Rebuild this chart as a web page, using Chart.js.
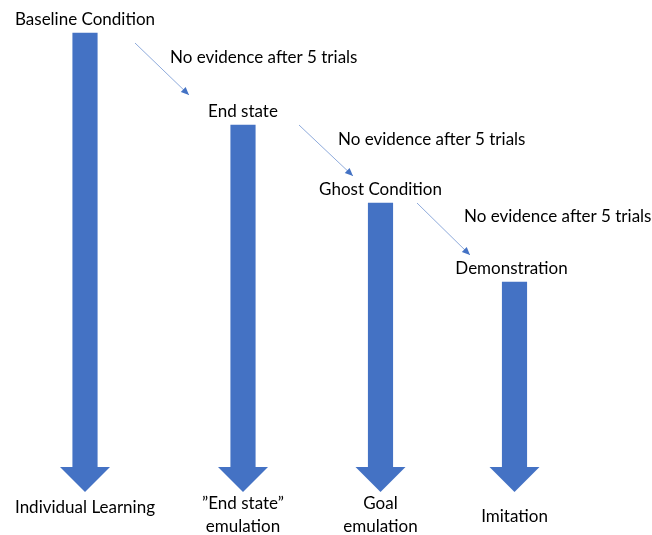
<!DOCTYPE html>
<html>
<head>
<meta charset="utf-8">
<script src="https://cdn.jsdelivr.net/npm/chart.js@4/dist/chart.umd.min.js"></script>
<style>
  html, body { margin: 0; padding: 0; background: #fff; }
  #wrap { width: 652px; height: 535px; position: relative; }
</style>
</head>
<body>
<div id="wrap"><canvas id="chart"></canvas></div>
<script>
// Stages of the test sequence (left to right)
const stages = ['Baseline Condition', 'End state', 'Ghost Condition', 'Demonstration'];
const outcomes = [['Individual Learning'], ['\u201DEnd state\u201D', 'emulation'], ['Goal', 'emulation'], ['Imitation']];
const transitionNote = 'No evidence after 5 trials';

// horizontal position of each stage, and where its arrow starts / ends
const stageX = [85, 243, 380.5, 514.5];
const arrowStart = [33, 125, 203, 282];
const shaftEnd = [467, 467, 467, 467];
const arrowTip = [492, 492, 492, 492];

// thin "no evidence" arrows between stages
const linkFromX = [135, 299, 417];
const linkFromY = [43, 125, 203];
const linkToX = [189, 353, 470];
const linkToY = [95, 176, 255];
// where each note starts
const noteX = [170, 338, 464];
const noteY = [58, 140, 217];

const blue = '#4472c4';
const lightBlue = '#8eaadb';
const font = '17px Lato, "Open Sans", sans-serif';

const linkDatasets = linkFromX.map((x, i) => ({
  type: 'line',
  data: [{ x: x, y: linkFromY[i] }, { x: linkToX[i], y: linkToY[i] }],
  borderColor: lightBlue,
  borderWidth: 1,
  pointRadius: 0,
  fill: false
}));

// arrow heads + texts
const diagramPlugin = {
  id: 'diagram',
  afterDatasetsDraw(chart) {
    const ctx = chart.ctx;
    const xs = chart.scales.x;
    const ys = chart.scales.y;
    ctx.save();

    // big arrow heads
    ctx.fillStyle = blue;
    stageX.forEach((sx, i) => {
      const px = xs.getPixelForValue(sx);
      const y1 = ys.getPixelForValue(shaftEnd[i]);
      const y2 = ys.getPixelForValue(arrowTip[i]);
      ctx.beginPath();
      ctx.moveTo(px - 25, y1);
      ctx.lineTo(px + 25, y1);
      ctx.lineTo(px, y2);
      ctx.closePath();
      ctx.fill();
    });

    // small heads on the link lines
    linkToX.forEach((tx, i) => {
      const x2 = xs.getPixelForValue(tx), y2 = ys.getPixelForValue(linkToY[i]);
      const x1 = xs.getPixelForValue(linkFromX[i]), y1 = ys.getPixelForValue(linkFromY[i]);
      const a = Math.atan2(y2 - y1, x2 - x1);
      ctx.fillStyle = blue;
      ctx.beginPath();
      ctx.moveTo(x2, y2);
      ctx.lineTo(x2 - 8 * Math.cos(a) + 3.5 * Math.sin(a), y2 - 8 * Math.sin(a) - 3.5 * Math.cos(a));
      ctx.lineTo(x2 - 8 * Math.cos(a) - 3.5 * Math.sin(a), y2 - 8 * Math.sin(a) + 3.5 * Math.cos(a));
      ctx.closePath();
      ctx.fill();
    });

    ctx.fillStyle = '#000';
    ctx.font = font;
    ctx.textBaseline = 'middle';

    // stage names above arrows
    ctx.textAlign = 'center';
    stages.forEach((s, i) => {
      ctx.fillText(s, xs.getPixelForValue(stageX[i]) - (i === 3 ? 3 : 0), ys.getPixelForValue(arrowStart[i]) - 13);
    });

    // outcomes under arrows
    outcomes.forEach((lines, i) => {
      const cx = xs.getPixelForValue(stageX[i]);
      const tip = ys.getPixelForValue(arrowTip[i]);
      const start = lines.length === 1 ? tip + (i === 3 ? 25 : 16) : tip + 12;
      lines.forEach((l, j) => ctx.fillText(l, cx, start + j * 23));
    });

    // notes next to the link lines
    ctx.textAlign = 'left';
    noteX.forEach((x, i) => {
      ctx.fillText(transitionNote, xs.getPixelForValue(x), ys.getPixelForValue(noteY[i]));
    });

    ctx.restore();
  }
};

new Chart(document.getElementById('chart'), {
  data: {
    datasets: [{
      type: 'bar',
      data: stageX.map((x, i) => ({ x: x, y: [arrowStart[i], shaftEnd[i]] })),
      backgroundColor: blue,
      borderWidth: 0,
      barThickness: 24.5
    }].concat(linkDatasets)
  },
  options: {
    responsive: true,
    maintainAspectRatio: false,
    animation: false,
    layout: { padding: 0 },
    scales: {
      x: { type: 'linear', min: 0, max: 652, offset: false, display: false },
      y: { type: 'linear', min: 0, max: 535, reverse: true, display: false }
    },
    plugins: {
      legend: { display: false },
      tooltip: { enabled: false }
    }
  },
  plugins: [diagramPlugin]
});
</script>
</body>
</html>
